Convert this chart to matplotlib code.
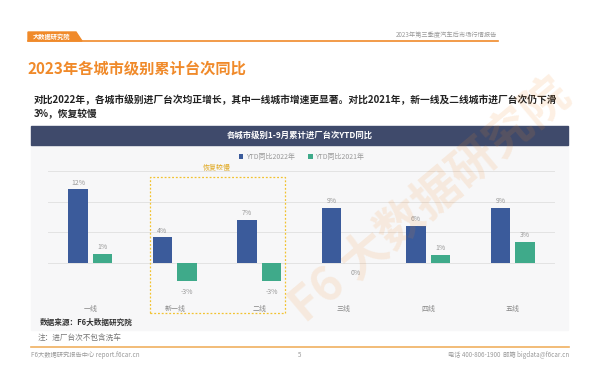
import matplotlib
matplotlib.use("Agg")
import matplotlib.pyplot as plt
from matplotlib.patches import Rectangle, Polygon
import numpy as np

plt.rcParams['font.family'] = ['Noto Sans CJK SC', 'DejaVu Sans']

# data
cities = ['一线', '新一线', '二线', '三线', '四线', '五线']
ytd_2022 = [12.0, 4.1, 7.0, 8.9, 6.0, 8.9]
ytd_2021 = [1.4, -3.1, -3.1, 0.0, 1.3, 3.4]
series_names = ['YTD同比2022年', 'YTD同比2021年']

BLUE = '#3b5b9b'
GREEN = '#3faa8a'
NAVY = '#3f4a6b'
ORANGE = '#f08a2a'
GOLD = '#f2c230'

W, H = 600, 390
fig = plt.figure(figsize=(6, 3.9), dpi=100)
fig.patch.set_facecolor('white')


def fy(y):
    return 1 - y / H


def fx(x):
    return x / W


def ftext(x, y, s, **kw):
    fig.text(fx(x), fy(y), s, **kw)


# header
tag = Polygon([(fx(28), fy(32)), (fx(76), fy(32)), (fx(82), fy(41)), (fx(28), fy(41))],
              closed=True, transform=fig.transFigure, color=ORANGE, zorder=2)
fig.patches.append(tag)
ftext(33, 36.5, '大数据研究院', fontsize=4.5, color='white', va='center', fontweight='bold')
fig.add_artist(plt.Line2D([fx(28), fx(498)], [fy(41), fy(41)], color=ORANGE, lw=1.2,
                          transform=fig.transFigure))
ftext(497, 35, '2023年第三季度汽车后市场行情报告', fontsize=4.5, color='#999999',
      ha='right', va='center')

# title and subtitle
ftext(28, 68, '2023年各城市级别累计台次同比', fontsize=11, color=ORANGE,
      fontweight='bold', va='center')
ftext(34, 100, '对比2022年，各城市级别进厂台次均正增长，其中一线城市增速更显著。对比2021年，新一线及二线城市进厂台次仍下滑',
      fontsize=7, color='#222222', fontweight='bold', va='center')
ftext(34, 114, '3%，恢复较慢', fontsize=7, color='#222222', fontweight='bold', va='center')

# panel
fig.patches.append(Rectangle((fx(31), fy(330)), fx(537), (330 - 145) / H,
                             transform=fig.transFigure, color='#f7f7f8', zorder=-2))
fig.patches.append(Rectangle((fx(31), fy(145)), fx(537), 19 / H,
                             transform=fig.transFigure, color=NAVY, zorder=-1))
ftext(300, 135.5, '各城市级别1-9月累计进厂台次YTD同比', fontsize=6, color='white',
      fontweight='bold', ha='center', va='center')

# chart
ax = fig.add_axes([fx(48), fy(293), fx(507), (293 - 171) / H])
ax.set_zorder(3)
ax.set_facecolor('none')
x = np.arange(len(cities))
bw = 0.225
off = 0.145
b1 = ax.bar(x - off, ytd_2022, bw, color=BLUE, label=series_names[0], zorder=3)
b2 = ax.bar(x + off, ytd_2021, bw, color=GREEN, label=series_names[1], zorder=3)
ax.set_xlim(-0.5, len(cities) - 0.5)
ax.set_ylim(-5, 15)
ax.set_yticks([-5, 0, 5, 10, 15])
ax.set_yticklabels([])
ax.tick_params(axis='y', length=0)
ax.grid(axis='y', color='#e3e3e3', lw=0.7, zorder=0)
for s in ax.spines.values():
    s.set_visible(False)
ax.set_xticks(x)
ax.set_xticklabels(cities, fontsize=5, color='#888888')
ax.tick_params(axis='x', length=0, pad=9)

for bars, vals in ((b1, ytd_2022), (b2, ytd_2021)):
    for b, v in zip(bars, vals):
        cx = b.get_x() + b.get_width() / 2
        if v > 0:
            ax.annotate('%.0f%%' % v, (cx, v), xytext=(0, 2), textcoords='offset points',
                        ha='center', va='bottom', fontsize=5, color='#999999')
        else:
            ax.annotate('%.0f%%' % v, (cx, v), xytext=(0, -5), textcoords='offset points',
                        ha='center', va='top', fontsize=5, color='#999999')

# highlight box
ax.add_patch(Rectangle((0.71, -8.3), 1.59, 22.3, fill=False, ls=(0, (1.5, 1.5)),
                       ec=GOLD, lw=0.9, clip_on=False, zorder=4))
ftext(217, 168, '恢复较慢', fontsize=5, color='#e0a820', ha='center', va='center')

leg = ax.legend(loc='center', bbox_to_anchor=(0.5, 1.115), ncol=2, frameon=False,
                fontsize=5, handlelength=0.6, handleheight=0.6, columnspacing=2.0,
                handletextpad=0.4)
for t in leg.get_texts():
    t.set_color('#999999')

# source and note
ftext(40, 322, '数据来源：F6大数据研究院', fontsize=5.5, color='#333333', fontweight='bold',
      va='center')
ftext(38, 339, '注：进厂台次不包含洗车', fontsize=5.5, color='#777777', style='italic',
      va='center')

# footer
fig.add_artist(plt.Line2D([fx(31), fx(569)], [fy(347), fy(347)], color='#f0b060', lw=1.2,
                          transform=fig.transFigure))
ftext(31, 355, 'F6大数据研究报告中心 report.f6car.cn', fontsize=4.5, color='#999999',
      va='center')
ftext(300, 355, '5', fontsize=4.5, color='#999999', ha='center', va='center')
ftext(569, 355, '电话 400-806-1900  邮箱 bigdata@f6car.cn', fontsize=4.5, color='#999999',
      ha='right', va='center')

# watermark
ftext(430, 200, 'F6 大数据研究院', fontsize=34, color=ORANGE, alpha=0.13, rotation=40,
      ha='center', va='center', fontweight='bold', zorder=10)

fig.savefig('out.png', dpi=100)
